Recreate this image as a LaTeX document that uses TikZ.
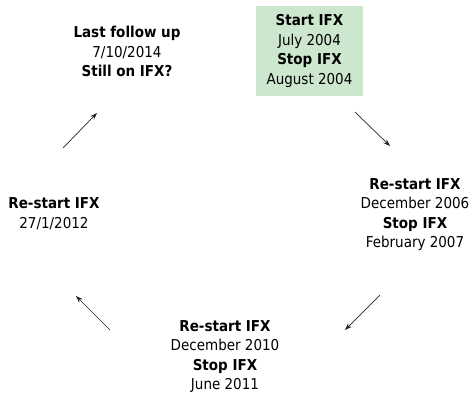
\documentclass[tikz,border=0pt]{standalone}
\usepackage{fontspec}
\setmainfont{DejaVu Sans Condensed}
\usepackage{xcolor}
\usetikzlibrary{arrows.meta}

\definecolor{startgreen}{RGB}{204,231,206}

\begin{document}
\begin{tikzpicture}[x=1pt, y=-1pt,
    stage/.style={align=center, inner sep=0pt, font=\fontsize{15}{19.5}\selectfont},
    flow/.style={-{Stealth[length=7pt,width=5pt]}, line width=0.7pt, black!85}]
  \useasboundingbox (0,0) rectangle (472,402);
  % --- stages of the treatment ------------------------------------------
  \node[stage, fill=startgreen, minimum width=107pt, minimum height=90pt]
       (start) at (309.5,51) {\textbf{Start IFX}\\July 2004\\\textbf{Stop IFX}\\August 2004};
  \node[stage] (restartA) at (415,214.5)
       {\textbf{Re-start IFX}\\December 2006\\\textbf{Stop IFX}\\February 2007};
  \node[stage] (restartB) at (225,356.5)
       {\textbf{Re-start IFX}\\December 2010\\\textbf{Stop IFX}\\June 2011};
  \node[stage] (restartC) at (54,213.5) {\textbf{Re-start IFX}\\27/1/2012};
  \node[stage] (last) at (127,51.5)
       {\textbf{Last follow up}\\7/10/2014\\\textbf{Still on IFX?}};
  % --- arrows between the stages ------------------------------------------
  \coordinate (a1) at (355,112);  \coordinate (b1) at (390,146);
  \coordinate (a2) at (380,295);  \coordinate (b2) at (345,330);
  \coordinate (a3) at (110,330);  \coordinate (b3) at (76,296);
  \coordinate (a4) at (63,148);   \coordinate (b4) at (97,113);
  \draw[flow] (a1) -- (b1);
  \draw[flow] (a2) -- (b2);
  \draw[flow] (a3) -- (b3);
  \draw[flow] (a4) -- (b4);
\end{tikzpicture}
\end{document}
